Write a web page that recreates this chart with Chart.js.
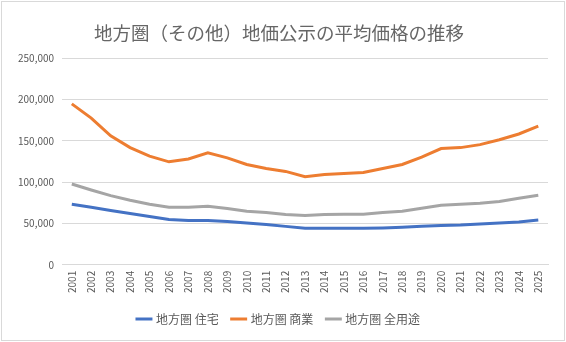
<!DOCTYPE html>
<html><head><meta charset="utf-8">
<script src="https://cdn.jsdelivr.net/npm/chart.js@4/dist/chart.umd.min.js"></script>
<style>
html,body{margin:0;padding:0;background:#fff;}
#wrap{position:absolute;left:1px;top:1px;width:562px;height:338px;border:1px solid #d9d9d9;background:#fff;}
canvas{display:block;}
</style></head><body>
<div id="wrap"><canvas id="c" width="562" height="338"></canvas></div>
<script>
const years = ["2001","2002","2003","2004","2005","2006","2007","2008","2009","2010","2011","2012","2013","2014","2015","2016","2017","2018","2019","2020","2021","2022","2023","2024","2025"];
const residential = [73300,69700,65700,62100,58500,54900,53700,53700,52500,50500,48900,46500,44100,44100,44100,44100,44500,45300,46500,47700,48100,49300,50500,51700,54100];
const commercial = [194700,177500,156000,141800,131400,124600,128000,135400,129400,121400,116600,113000,106600,109400,110600,111800,116600,121400,130200,140600,141800,145400,151400,158300,167900];
const allUses = [97800,90500,83700,78100,73300,69700,69700,70900,68100,64900,63300,60900,59700,60900,61300,61300,63300,64900,68500,72100,73300,74500,76500,80500,84100];
const seriesNames = ["地方圏 住宅","地方圏 商業","地方圏 全用途"];
const yTicks = [0,50000,100000,150000,200000,250000];
const titleText = "地方圏（その他）地価公示の平均価格の推移";

const font = "'Noto Sans CJK JP','Noto Sans',sans-serif";
new Chart(document.getElementById('c'), {
  type: 'line',
  data: {
    labels: years,
    datasets: [
      {label: seriesNames[0], data: residential, borderColor:'#4472C4', backgroundColor:'#4472C4', borderWidth:3, pointRadius:0, tension:0},
      {label: seriesNames[1], data: commercial, borderColor:'#ED7D31', backgroundColor:'#ED7D31', borderWidth:3, pointRadius:0, tension:0},
      {label: seriesNames[2], data: allUses, borderColor:'#A5A5A5', backgroundColor:'#A5A5A5', borderWidth:3, pointRadius:0, tension:0}
    ]
  },
  options: {
    responsive:false, animation:false,
    layout:{padding:{left:8,right:16,top:4,bottom:5}},
    plugins:{
      title:{display:true,text:titleText,color:'#666666',font:{family:font,size:18.5,weight:'normal'},padding:{top:16,bottom:14}},
      legend:{position:'bottom',labels:{usePointStyle:true,pointStyle:'line',boxWidth:33,color:'#595959',font:{family:font,size:12},padding:14}},
      tooltip:{enabled:false}
    },
    scales:{
      x:{offset:true,grid:{display:false,drawTicks:false},border:{display:true,color:'#d9d9d9'},
         ticks:{color:'#595959',font:{family:font,size:10},maxRotation:90,minRotation:90,autoSkip:false,padding:6}},
      y:{min:0,max:250000,afterBuildTicks:(s)=>{s.ticks=yTicks.map(v=>({value:v}));},
         grid:{color:'#d9d9d9',drawTicks:false},border:{display:false},
         ticks:{color:'#595959',font:{family:font,size:10},padding:8,callback:v=>v.toLocaleString('en-US')}}
    }
  }
});
</script></body></html>
